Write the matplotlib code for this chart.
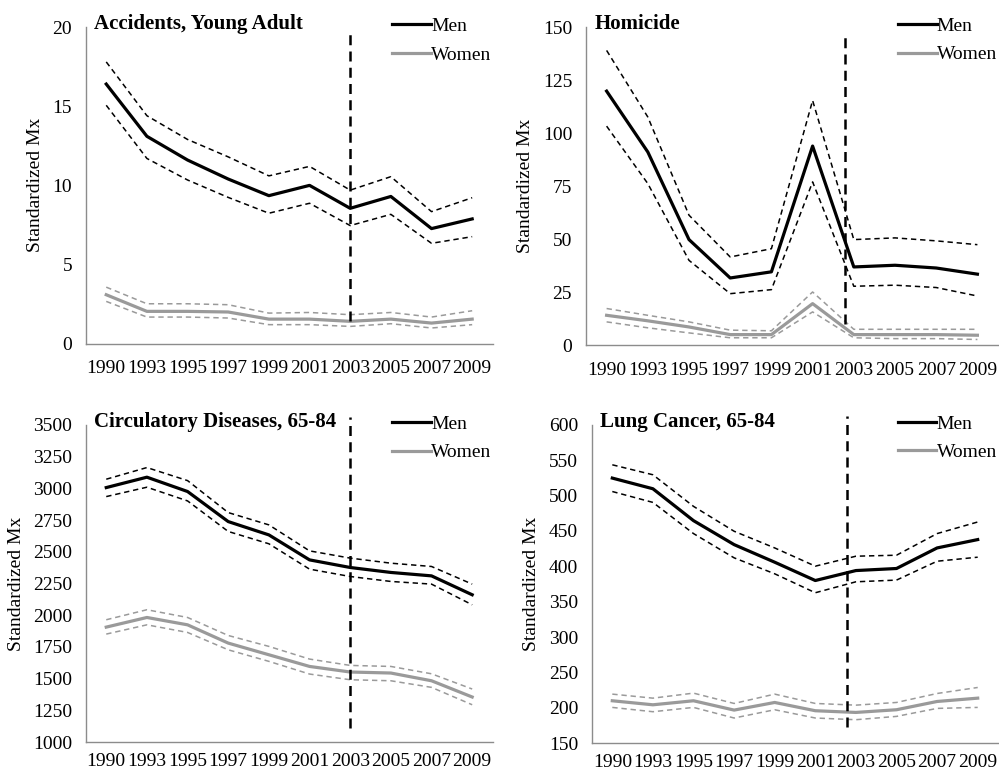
import matplotlib.pyplot as plt

plt.rcParams['font.family'] = ['Liberation Serif', 'DejaVu Serif']

years = ['1990', '1993', '1995', '1997', '1999', '2001', '2003', '2005', '2007', '2009']
x = list(range(len(years)))

# Accidents, Young Adult
acc_men = [16.4, 13.1, 11.6, 10.4, 9.35, 10.0, 8.55, 9.3, 7.27, 7.88]
acc_men_hi = [17.8, 14.4, 12.9, 11.8, 10.6, 11.2, 9.7, 10.55, 8.34, 9.22]
acc_men_lo = [15.06, 11.7, 10.34, 9.24, 8.24, 8.87, 7.46, 8.17, 6.34, 6.76]
acc_wom = [3.09, 2.04, 2.04, 2.0, 1.55, 1.55, 1.41, 1.55, 1.3, 1.55]
acc_wom_hi = [3.57, 2.52, 2.52, 2.46, 1.93, 1.97, 1.83, 1.97, 1.68, 2.08]
acc_wom_lo = [2.67, 1.68, 1.68, 1.62, 1.2, 1.2, 1.09, 1.26, 0.99, 1.2]

# Homicide
hom_men = [119.8, 91.1, 49.8, 31.7, 34.6, 93.9, 36.9, 37.7, 36.4, 33.5]
hom_men_hi = [139, 107.6, 61.3, 41.6, 45.5, 115.4, 49.8, 50.6, 49.2, 47.4]
hom_men_lo = [103.3, 76.2, 40, 24.3, 26.2, 77, 27.8, 28.3, 27.2, 23.2]
hom_wom = [14.1, 11.5, 8.6, 5.0, 5.0, 19.6, 5.0, 5.0, 5.0, 4.7]
hom_wom_hi = [17.3, 14.1, 11.0, 7.1, 6.8, 25.1, 7.5, 7.5, 7.5, 7.5]
hom_wom_lo = [11.0, 8.2, 5.8, 3.5, 3.5, 15.7, 3.5, 3.1, 3.1, 2.7]

# Circulatory Diseases, 65-84
cir_men = [3006, 3088, 2975, 2738, 2633, 2436, 2376, 2337, 2310, 2161]
cir_men_hi = [3072, 3164, 3061, 2809, 2712, 2507, 2450, 2410, 2384, 2245]
cir_men_lo = [2935, 3009, 2901, 2660, 2563, 2363, 2305, 2266, 2245, 2082]
cir_wom = [1906, 1982, 1924, 1780, 1688, 1596, 1552, 1544, 1483, 1355]
cir_wom_hi = [1964, 2043, 1982, 1840, 1754, 1654, 1604, 1596, 1538, 1418]
cir_wom_lo = [1851, 1924, 1864, 1727, 1636, 1536, 1491, 1483, 1431, 1294]

# Lung Cancer, 65-84
lun_men = [524.8, 509.7, 464.6, 430.7, 405.8, 379.9, 394, 396.9, 426, 437.8]
lun_men_hi = [543.6, 529.5, 484.8, 449.6, 426, 400.2, 414.3, 415.7, 446.3, 462.7]
lun_men_lo = [505.8, 490.4, 446.3, 412, 389.4, 362.6, 378.1, 380.5, 407.2, 412.9]
lun_wom = [209.8, 204.1, 209.8, 196.6, 207.4, 195.7, 193.3, 197.1, 208.8, 213.5]
lun_wom_hi = [219.2, 213.5, 220.6, 206, 219.2, 206, 203.6, 207.4, 220.1, 228.6]
lun_wom_lo = [200.4, 194.3, 200.4, 185.4, 197.1, 185.4, 183, 187.7, 199, 200.4]

panels = [
    dict(title='Accidents, Young Adult', pos=[0.086, 0.556, 0.407, 0.409],
         ylim=(0, 20), ticks=[0, 5, 10, 15, 20], vx=6, vy=(1.4, 19.6), xpad=12,
         data=(acc_men, acc_men_hi, acc_men_lo, acc_wom, acc_wom_hi, acc_wom_lo)),
    dict(title='Homicide', pos=[0.5866, 0.554, 0.4124, 0.411],
         ylim=(0, 150), ticks=[0, 25, 50, 75, 100, 125, 150], vx=5.78, vy=(10, 147), xpad=12,
         data=(hom_men, hom_men_hi, hom_men_lo, hom_wom, hom_wom_hi, hom_wom_lo)),
    dict(title='Circulatory Diseases, 65-84', pos=[0.086, 0.0413, 0.407, 0.4097],
         ylim=(1000, 3500), ticks=list(range(1000, 3501, 250)), vx=6, vy=(1110, 3566), xpad=8,
         data=(cir_men, cir_men_hi, cir_men_lo, cir_wom, cir_wom_hi, cir_wom_lo)),
    dict(title='Lung Cancer, 65-84', pos=[0.5926, 0.040, 0.4064, 0.411],
         ylim=(150, 600), ticks=list(range(150, 601, 50)), vx=5.78, vy=(172, 612), xpad=8,
         data=(lun_men, lun_men_hi, lun_men_lo, lun_wom, lun_wom_hi, lun_wom_lo)),
]

fig = plt.figure(figsize=(9.99, 7.74), dpi=100)

for p in panels:
    ax = fig.add_axes(p['pos'])
    men, men_hi, men_lo, wom, wom_hi, wom_lo = p['data']
    grey = '#9a9a9a'
    ax.plot(x, men_hi, color='black', lw=1.1, dashes=(3.5, 2.5))
    ax.plot(x, men_lo, color='black', lw=1.1, dashes=(3.5, 2.5))
    ax.plot(x, wom_hi, color=grey, lw=1.1, dashes=(3.5, 2.5))
    ax.plot(x, wom_lo, color=grey, lw=1.1, dashes=(3.5, 2.5))
    ax.plot(x, men, color='black', lw=2.3, label='Men')
    ax.plot(x, wom, color=grey, lw=2.3, label='Women')
    ax.plot([p['vx'], p['vx']], p['vy'], color='black', lw=1.8, dashes=(4, 2.5),
            clip_on=False)
    ax.set_xlim(-0.5, 9.5)
    ax.set_ylim(*p['ylim'])
    ax.set_yticks(p['ticks'])
    ax.set_xticks(x)
    ax.set_xticklabels(years)
    ax.tick_params(length=0, labelsize=14)
    ax.tick_params(axis='x', pad=p['xpad'])
    ax.tick_params(axis='y', pad=10)
    for s in ['top', 'right']:
        ax.spines[s].set_visible(False)
    for s in ['left', 'bottom']:
        ax.spines[s].set_color('#8c8c8c')
        ax.spines[s].set_linewidth(1.0)
    ax.set_ylabel('Standardized Mx', fontsize=14, labelpad=6)
    ax.text(0.02, 1.01, p['title'], transform=ax.transAxes, fontsize=15,
            fontweight='bold', va='center', ha='left')
    ax.legend(loc='upper right', bbox_to_anchor=(1.04, 1.085), frameon=False,
              fontsize=14, handlelength=2.0, handletextpad=0.0, labelspacing=0.55)

fig.savefig('out.png', dpi=100)
